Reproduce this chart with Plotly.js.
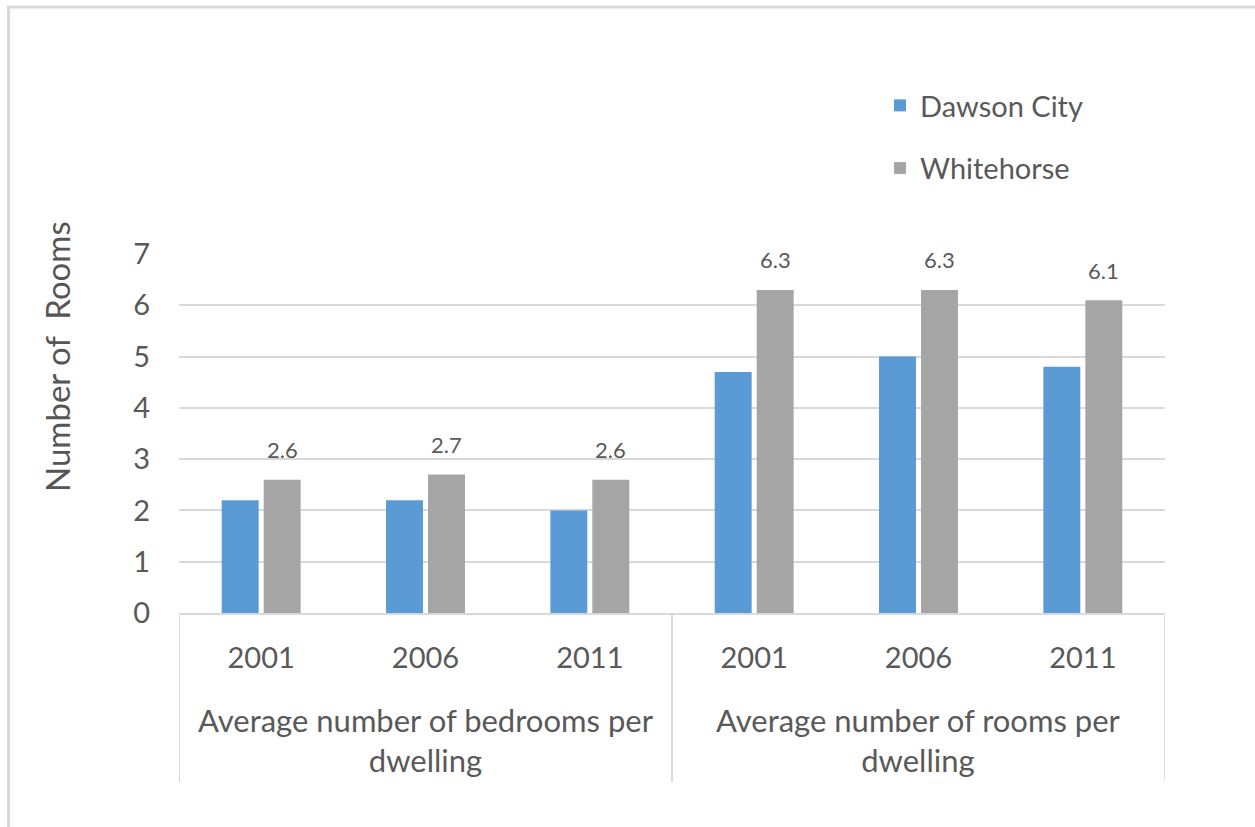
<!DOCTYPE html>
<html>
<head>
<meta charset="utf-8">
<script src="https://cdn.plot.ly/plotly-3.0.1.min.js"></script>
<style>
  html, body { margin: 0; padding: 0; background: #ffffff; }
  #chart { width: 1255px; height: 827px; }
</style>
</head>
<body>
<div id="chart"></div>
<script>
// Census years shown within each measure
const years = ['2001', '2006', '2011', '2001', '2006', '2011'];
// Measure groups spanning three years each
const groups = ['Average number of bedrooms per<br>dwelling', 'Average number of rooms per<br>dwelling'];
const seriesNames = ['Dawson City', 'Whitehorse'];
const dawsonCity = [2.2, 2.2, 2.0, 4.7, 5.0, 4.8];
const whitehorse = [2.6, 2.7, 2.6, 6.3, 6.3, 6.1];
const yTitle = 'Number of  Rooms';

const FONT = 'Lato, "Open Sans", "Liberation Sans", sans-serif';
const TEXT = '#595959';
const GRID = '#d9d9d9';

// Plot-area pixel box inside the 1255x827 page
const M = { l: 179, r: 90, t: 254, b: 214 };
const W = 1255 - M.l - M.r;
const H = 827 - M.t - M.b;
const px = x => (x - M.l) / W;        // page x -> paper x
const py = y => (827 - M.b - y) / H;  // page y -> paper y

const xs = years.map((_, i) => i);
const BARGAP = 0.489, GROUPGAP = 0.12;
const slot = (1 - BARGAP) / 2;

const traces = [
  { type: 'bar', name: seriesNames[0], x: xs, y: dawsonCity, legendgroup: 'a',
    marker: { color: '#5B9BD5' }, hoverinfo: 'y' },
  { type: 'bar', name: seriesNames[1], x: xs, y: whitehorse, legendgroup: 'b',
    marker: { color: '#A5A5A5' }, hoverinfo: 'y' }
];

// Value labels above the Whitehorse bars
const annotations = whitehorse.map((v, i) => ({
  x: i + slot / 2, y: v, xref: 'x', yref: 'y',
  text: v.toFixed(1), showarrow: false, yanchor: 'middle', yshift: 30,
  font: { family: FONT, size: 22, color: TEXT }
}));

// Group captions beneath the year labels
groups.forEach((g, k) => {
  annotations.push({
    x: k * 3 + 1, y: py(740), xref: 'x', yref: 'paper',
    text: g, showarrow: false, xanchor: 'center', yanchor: 'middle',
    font: { family: FONT, size: 31, color: TEXT }
  });
});

// Vertical axis caption, set higher than the plot centre
annotations.push({
  x: px(57), y: py(357), xref: 'paper', yref: 'paper',
  text: yTitle, textangle: -90, showarrow: false,
  xanchor: 'center', yanchor: 'middle',
  font: { family: FONT, size: 33, color: '#555555' }
});

const shapes = [];
// Dividers between the groups along the category axis
[-0.5, 2.5, 5.5].forEach((xv, k) => {
  shapes.push({ type: 'line', xref: 'x', yref: 'paper', x0: xv, x1: xv,
    y0: 0, y1: py(k === 2 ? 779 : 782), line: { color: GRID, width: 2 } });
});
// Chart frame edges
shapes.push({ type: 'line', xref: 'paper', yref: 'paper', x0: px(8.5), x1: px(8.5),
  y0: py(6), y1: py(830), line: { color: GRID, width: 3 } });
shapes.push({ type: 'line', xref: 'paper', yref: 'paper', x0: px(7), x1: px(1260),
  y0: py(7), y1: py(7), line: { color: GRID, width: 3 } });

const layout = {
  width: 1255, height: 827,
  margin: M,
  paper_bgcolor: '#ffffff', plot_bgcolor: '#ffffff',
  font: { family: FONT, color: TEXT },
  barmode: 'group', bargap: BARGAP, bargroupgap: GROUPGAP,
  showlegend: true,
  legend: {
    x: px(880), y: py(80), xanchor: 'left', yanchor: 'top',
    font: { family: FONT, size: 29, color: TEXT },
    tracegroupgap: 22, bgcolor: 'rgba(0,0,0,0)'
  },
  xaxis: {
    range: [-0.5, 5.5], tickvals: xs, ticktext: years,
    showgrid: false, zeroline: false, ticks: '',
    showline: true, linecolor: GRID, linewidth: 2,
    ticklabelstandoff: 18,
    tickfont: { family: FONT, size: 29, color: TEXT }, fixedrange: true
  },
  yaxis: {
    range: [0, 7], dtick: 1, tick0: 0,
    showgrid: true, gridcolor: GRID, gridwidth: 2,
    zeroline: false, showline: false, ticks: '',
    ticklabelstandoff: 28,
    tickfont: { family: FONT, size: 29, color: TEXT },
    fixedrange: true
  },
  annotations: annotations,
  shapes: shapes
};

Plotly.newPlot('chart', traces, layout, { displayModeBar: false, staticPlot: true });
</script>
</body>
</html>
